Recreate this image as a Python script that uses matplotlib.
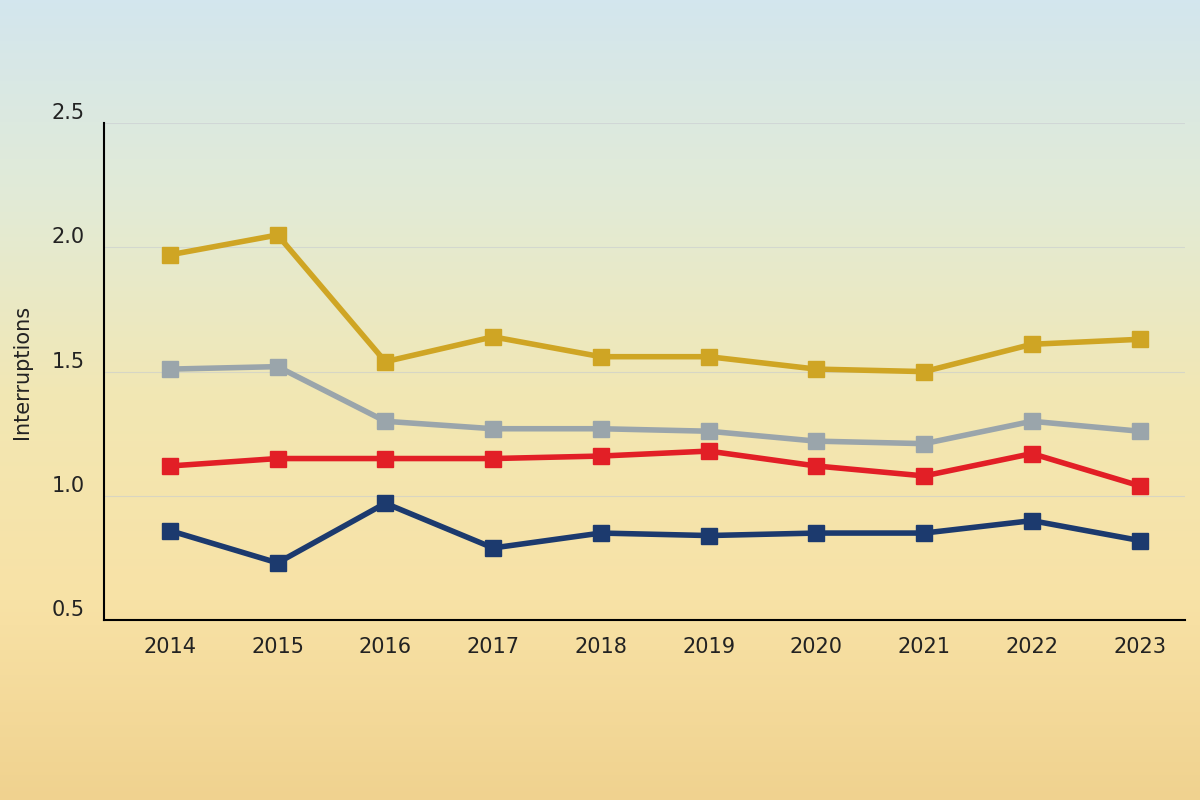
import numpy as np
import matplotlib
matplotlib.use("Agg")
import matplotlib.pyplot as plt
from matplotlib.colors import LinearSegmentedColormap

years = [2014, 2015, 2016, 2017, 2018, 2019, 2020, 2021, 2022, 2023]
gold = [1.97, 2.05, 1.54, 1.64, 1.56, 1.56, 1.51, 1.50, 1.61, 1.63]
gray = [1.51, 1.52, 1.30, 1.27, 1.27, 1.26, 1.22, 1.21, 1.30, 1.26]
red = [1.12, 1.15, 1.15, 1.15, 1.16, 1.18, 1.12, 1.08, 1.17, 1.04]
navy = [0.86, 0.73, 0.97, 0.79, 0.85, 0.84, 0.85, 0.85, 0.90, 0.82]
y_ticks = [0.5, 1.0, 1.5, 2.0, 2.5]

fig = plt.figure(figsize=(12, 8), dpi=100)

# background gradient, light blue at top to warm yellow at bottom
bg = fig.add_axes([0, 0, 1, 1], zorder=0)
cmap = LinearSegmentedColormap.from_list(
    "bg", ["#d3e6ee", "#e2ebd6", "#f2e7b3", "#f8e2a6", "#f0d28f"])
grad = np.linspace(0, 1, 256).reshape(-1, 1)
bg.imshow(grad, aspect="auto", cmap=cmap, extent=[0, 1, 0, 1], origin="upper")
bg.axis("off")

ax = fig.add_axes([0.0867, 0.225, 0.9008, 0.621], zorder=1)
ax.patch.set_alpha(0)

series = [(gold, "#cfa524"), (gray, "#9aa5ab"), (red, "#e21f26"), (navy, "#1c3a6e")]
for vals, col in series:
    ax.plot(years, vals, color=col, linewidth=4, marker="s", markersize=11,
            solid_joinstyle="miter")

ax.set_xlim(2013.39, 2023.42)
ax.set_ylim(0.5, 2.5)
ax.set_yticks(y_ticks)
ax.set_yticklabels([f"{v:.1f}" for v in y_ticks], va="bottom")
ax.set_xticks(years)
ax.grid(axis="y", color="#c8ccd0", linewidth=0.8, alpha=0.6)
ax.set_axisbelow(True)
for s in ["top", "right"]:
    ax.spines[s].set_visible(False)
for s in ["left", "bottom"]:
    ax.spines[s].set_color("black")
    ax.spines[s].set_linewidth(1.5)
ax.tick_params(length=0, labelsize=15, colors="#222222")
ax.tick_params(axis="x", pad=12)
ax.tick_params(axis="y", pad=14)
ax.set_ylabel("Interruptions", fontsize=15, color="#222222", labelpad=14)

fig.savefig("out.png", dpi=100)
